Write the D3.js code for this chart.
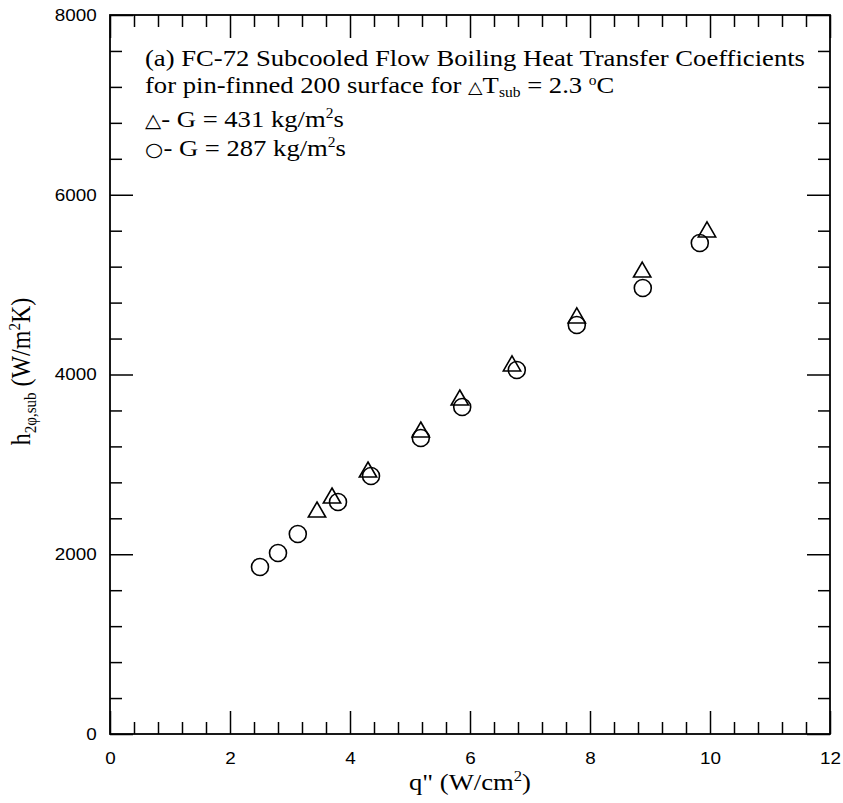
<!DOCTYPE html>
<html>
<head>
<meta charset="utf-8">
<script src="https://cdn.jsdelivr.net/npm/d3@7"></script>
<style>
  body { margin: 0; background: #fff; }
  .tick text { font-family: "Liberation Sans", Arial, sans-serif; font-size: 17px; fill: #000; }
  .serif { font-family: "Liberation Serif", "Times New Roman", serif; fill: #000; }
  .sym { font-family: "DejaVu Sans", sans-serif; }
</style>
</head>
<body>
<div id="chart"></div>
<script>
// G = 431 kg/m2s (triangles)
const qTri = [3.45, 3.7, 4.3, 5.18, 5.83, 6.7, 7.78, 8.87, 9.95];
const hTri = [2470, 2626, 2915, 3360, 3716, 4095, 4629, 5140, 5586];
// G = 287 kg/m2s (circles)
const qCirc = [2.5, 2.8, 3.13, 3.8, 4.35, 5.18, 5.87, 6.78, 7.78, 8.88, 9.83];
const hCirc = [1858, 2014, 2225, 2581, 2871, 3294, 3638, 4050, 4551, 4962, 5463];

const xMajor = [0, 2, 4, 6, 8, 10, 12];
const yMajor = [0, 2000, 4000, 6000, 8000];

const margin = { top: 15, right: 13, bottom: 69, left: 110 };
const width = 843 - margin.left - margin.right;
const height = 803 - margin.top - margin.bottom;
const stretch = 1.11; // the original picture is a bit wider than tall

const svg = d3.select('#chart')
    .append('svg')
    .attr('width', 843)
    .attr('height', 803)
    .append('g')
    .attr('transform', `translate(${margin.left},${margin.top})`);

const x = d3.scaleLinear().domain([0, 12]).range([0, width]);
const y = d3.scaleLinear().domain([0, 8000]).range([height, 0]);

const xMinor = d3.range(0, 12.001, 0.4).filter(v => Math.abs(v / 2 - Math.round(v / 2)) > 1e-6);
const yMinor = d3.range(0, 8001, 400).filter(v => v % 2000 !== 0);

function styleAxis(g) {
    g.select('.domain').remove();
    g.selectAll('line').attr('stroke', '#000').attr('stroke-width', 1.5);
    g.selectAll('text').attr('transform', `scale(${stretch},1)`);
}

// bottom axis
svg.append('g').attr('transform', `translate(0,${height})`)
    .call(d3.axisBottom(x).tickValues(xMajor).tickFormat(d3.format('d')).tickSize(-23).tickPadding(18))
    .call(styleAxis);
svg.append('g').attr('transform', `translate(0,${height})`)
    .call(d3.axisBottom(x).tickValues(xMinor).tickFormat('').tickSize(-12))
    .call(styleAxis);
// top axis
svg.append('g')
    .call(d3.axisTop(x).tickValues(xMajor).tickFormat('').tickSize(-23))
    .call(styleAxis);
svg.append('g')
    .call(d3.axisTop(x).tickValues(xMinor).tickFormat('').tickSize(-12))
    .call(styleAxis);
// left axis
svg.append('g')
    .call(d3.axisLeft(y).tickValues(yMajor).tickFormat(d3.format('d')).tickSize(-23).tickPadding(12))
    .call(styleAxis);
svg.append('g')
    .call(d3.axisLeft(y).tickValues(yMinor).tickFormat('').tickSize(-12))
    .call(styleAxis);
// right axis
svg.append('g').attr('transform', `translate(${width},0)`)
    .call(d3.axisRight(y).tickValues(yMajor).tickFormat('').tickSize(-23))
    .call(styleAxis);
svg.append('g').attr('transform', `translate(${width},0)`)
    .call(d3.axisRight(y).tickValues(yMinor).tickFormat('').tickSize(-12))
    .call(styleAxis);

svg.append('rect')
    .attr('width', width)
    .attr('height', height)
    .attr('fill', 'none')
    .attr('stroke', '#000')
    .attr('stroke-width', 1.8);

// data
svg.selectAll('.circ')
    .data(qCirc.map((q, i) => ({ q, h: hCirc[i] })))
    .enter()
    .append('circle')
    .attr('cx', d => x(d.q))
    .attr('cy', d => y(d.h))
    .attr('r', 8.5)
    .attr('fill', 'none')
    .attr('stroke', '#000')
    .attr('stroke-width', 1.6);

const tri = d3.symbol().type(d3.symbolTriangle).size(130);
svg.selectAll('.tri')
    .data(qTri.map((q, i) => ({ q, h: hTri[i] })))
    .enter()
    .append('path')
    .attr('d', tri)
    .attr('transform', d => `translate(${x(d.q)},${y(d.h)})`)
    .attr('fill', 'none')
    .attr('stroke', '#000')
    .attr('stroke-width', 1.6);

// legend text
const leg = svg.append('g').attr('transform', `translate(35,0) scale(${stretch},1)`)
    .append('text').attr('class', 'serif').attr('font-size', 24);
leg.append('tspan').attr('x', 0).attr('y', 51).text('(a) FC-72 Subcooled Flow Boiling Heat Transfer Coefficients');
const l2 = leg.append('tspan').attr('x', 0).attr('y', 78);
l2.append('tspan').text('for pin-finned 200 surface for ');
l2.append('tspan').attr('class', 'sym').attr('font-size', 17).text('\u25B3');
l2.append('tspan').text('T');
l2.append('tspan').attr('font-size', 14).attr('dy', 4).text('sub');
l2.append('tspan').attr('dy', -4).text(' = 2.3 ');
l2.append('tspan').attr('font-size', 14).attr('dy', -8).text('o');
l2.append('tspan').attr('dy', 8).text('C');
const l3 = leg.append('tspan').attr('x', 0).attr('y', 112);
l3.append('tspan').attr('class', 'sym').attr('font-size', 19).text('\u25B3');
l3.append('tspan').text('- G = 431 kg/m');
l3.append('tspan').attr('font-size', 14).attr('dy', -9).text('2');
l3.append('tspan').attr('dy', 9).text('s');
const l4 = leg.append('tspan').attr('x', 0).attr('y', 141);
l4.append('tspan').attr('class', 'sym').attr('font-size', 19).text('\u25CB');
l4.append('tspan').text('- G = 287 kg/m');
l4.append('tspan').attr('font-size', 14).attr('dy', -9).text('2');
l4.append('tspan').attr('dy', 9).text('s');

// axis titles
const xt = svg.append('g').attr('transform', `translate(${width / 2},${height + 56}) scale(${stretch},1)`)
    .append('text').attr('class', 'serif').attr('font-size', 24).attr('text-anchor', 'middle');
xt.append('tspan').text('q" (W/cm');
xt.append('tspan').attr('font-size', 15).attr('dy', -9).text('2');
xt.append('tspan').attr('dy', 9).text(')');

const yt = svg.append('g').attr('transform', `translate(-80,${y(4000) - 3}) scale(${stretch},1) rotate(-90)`)
    .append('text').attr('class', 'serif').attr('font-size', 24).attr('text-anchor', 'middle');
yt.append('tspan').text('h');
yt.append('tspan').attr('font-size', 15).attr('dy', 5).text('2\u03C6,sub');
yt.append('tspan').attr('dy', -5).text(' (W/m');
yt.append('tspan').attr('font-size', 15).attr('dy', -9).text('2');
yt.append('tspan').attr('dy', 9).text('K)');
</script>
</body>
</html>
